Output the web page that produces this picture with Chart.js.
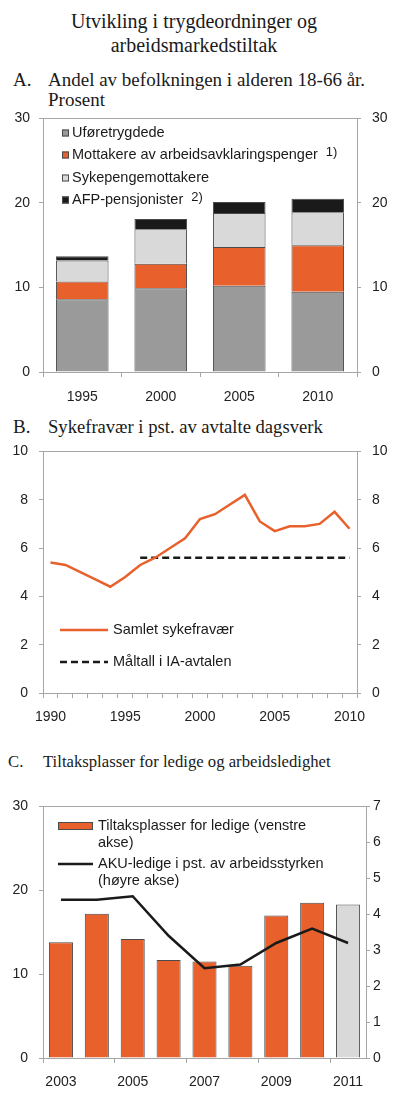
<!DOCTYPE html>
<html lang="no">
<head>
<meta charset="utf-8">
<title>Utvikling i trygdeordninger og arbeidsmarkedstiltak</title>
<script src="https://cdn.jsdelivr.net/npm/chart.js@4.4.1/dist/chart.umd.min.js"></script>
<style>
  body { margin: 0; background: #fff; }
  #page { position: relative; width: 400px; height: 1111px; overflow: hidden; }
  .serif { position: absolute; font-family: "Liberation Serif", "Times New Roman", serif; color: #1a1a1a; white-space: nowrap; }
  canvas { position: absolute; left: 0; }
</style>
</head>
<body>
<div id="page">
  <div class="serif" style="top:10px;left:0;width:388px;text-align:center;font-size:20px;line-height:23.5px;">Utvikling i trygdeordninger og<br>arbeidsmarkedstiltak</div>

  <div class="serif" style="top:70px;left:13px;font-size:19px;line-height:20px;">A.</div>
  <div class="serif" style="top:70px;left:48px;font-size:19px;line-height:20px;">Andel av befolkningen i alderen 18-66 år.<br>Prosent</div>
  <canvas id="chartA" width="400" height="309" style="top:99px"></canvas>

  <div class="serif" style="top:417px;left:13px;font-size:19px;line-height:20px;">B.</div>
  <div class="serif" style="top:417px;left:48px;font-size:18.6px;line-height:20px;">Sykefravær i pst. av avtalte dagsverk</div>
  <canvas id="chartB" width="400" height="298" style="top:432px"></canvas>

  <div class="serif" style="top:752px;left:8px;font-size:16.7px;line-height:20px;">C.</div>
  <div class="serif" style="top:752px;left:43px;font-size:16.7px;line-height:20px;">Tiltaksplasser for ledige og arbeidsledighet</div>
  <canvas id="chartC" width="400" height="319" style="top:787px"></canvas>
</div>

<script>
// A: andel av befolkningen 18-66 år, prosent
const yearsA = ['1995', '2000', '2005', '2010'];
const uforetrygdede = [8.6, 9.9, 10.2, 9.5];
const arbeidsavklaring = [2.1, 2.9, 4.6, 5.5];
const sykepenger = [2.5, 4.1, 4.0, 3.9];
const afpPensjonister = [0.5, 1.2, 1.3, 1.6];

// B: sykefravær i pst. av avtalte dagsverk
const yearsB = ['1990', '1991', '1992', '1993', '1994', '1995', '1996', '1997', '1998', '1999', '2000',
                '2001', '2002', '2003', '2004', '2005', '2006', '2007', '2008', '2009', '2010'];
const sykefravaer = [5.4, 5.3, 5.0, 4.7, 4.4, 4.8, 5.3, 5.6, 6.0, 6.4, 7.2,
                     7.4, 7.8, 8.2, 7.1, 6.7, 6.9, 6.9, 7.0, 7.5, 6.8];
const maltall = [null, null, null, null, null, null, 5.6, 5.6, 5.6, 5.6, 5.6,
                 5.6, 5.6, 5.6, 5.6, 5.6, 5.6, 5.6, 5.6, 5.6, 5.6];

// C: tiltaksplasser (1000) og AKU-ledige (pst.)
const yearsC = ['2003', '2004', '2005', '2006', '2007', '2008', '2009', '2010', '2011'];
const tiltaksplasser = [13.8, 17.2, 14.2, 11.7, 11.5, 11.0, 17.0, 18.5, 18.3];
const akuLedige = [4.4, 4.4, 4.5, 3.4, 2.5, 2.6, 3.2, 3.6, 3.2];

const ORANGE = '#e8612c';
const GREY = '#9a9a9a';
const LIGHT = '#d9d9d9';
const BLACK = '#1a1a1a';
const EDGE = '#4a4a4a';
const AXIS = '#a6a6a6';
const SANS = '"Liberation Sans", Arial, sans-serif';

Chart.defaults.font.family = SANS;
Chart.defaults.font.size = 14;
Chart.defaults.color = '#222';
Chart.defaults.animation = false;

// top line of the plot box
const frameTop = {
  id: 'frameTop',
  beforeDatasetsDraw(chart) {
    const { ctx, chartArea: a } = chart;
    ctx.save();
    ctx.strokeStyle = AXIS;
    ctx.lineWidth = 1;
    ctx.beginPath();
    ctx.moveTo(a.left, Math.round(a.top) + 0.5);
    ctx.lineTo(a.right, Math.round(a.top) + 0.5);
    ctx.stroke();
    ctx.restore();
  }
};

// legend drawn inside the plot area
const insideLegend = {
  id: 'insideLegend',
  afterDatasetsDraw(chart, args, o) {
    if (!o.items) return;
    const { ctx, chartArea: a } = chart;
    ctx.save();
    ctx.textBaseline = 'middle';
    o.items.forEach(item => {
      const ds = chart.data.datasets[item.dataset];
      const x = a.left + o.x;
      const y = Math.round(a.top + item.y);
      const fill = Array.isArray(ds.backgroundColor) ? ds.backgroundColor[0] : ds.backgroundColor;
      if (ds.type === 'line' || chart.config.type === 'line') {
        drawSampleLine(ctx, ds, x, y, o.symbolWidth);
      } else if (o.symbol === 'square') {
        ctx.fillStyle = fill;
        ctx.fillRect(x, y - 3.5, 7, 7);
        ctx.strokeStyle = EDGE;
        ctx.lineWidth = 1;
        ctx.strokeRect(x + 0.5, y - 3, 6, 6);
      } else {
        ctx.fillStyle = fill;
        ctx.fillRect(x, y - 4, o.symbolWidth, 8);
        ctx.strokeStyle = EDGE;
        ctx.lineWidth = 1;
        ctx.strokeRect(x + 0.5, y - 3.5, o.symbolWidth - 1, 7);
      }
      ctx.fillStyle = BLACK;
      ctx.font = '14.5px ' + SANS;
      const lines = item.lines || [ds.label];
      lines.forEach((t, j) => ctx.fillText(t, a.left + o.textX, y + j * (o.lineHeight || 17)));
      if (item.sup) {
        const w = ctx.measureText(lines[0]).width;
        ctx.font = '13px ' + SANS;
        ctx.fillText(item.sup, a.left + o.textX + w + 8, y - 2.5);
      }
    });
    ctx.restore();
  }
};

function drawSampleLine(ctx, ds, x, y, width) {
  ctx.strokeStyle = ds.borderColor;
  ctx.lineWidth = ds.borderWidth;
  ctx.setLineDash(ds.borderDash || []);
  ctx.beginPath();
  ctx.moveTo(x, y);
  ctx.lineTo(x + width, y);
  ctx.stroke();
  ctx.setLineDash([]);
}

Chart.register(frameTop, insideLegend);

function yAxis(position, min, max, step, pad, width) {
  return {
    position: position,
    min: min,
    max: max,
    ticks: { stepSize: step, padding: pad },
    grid: { drawOnChartArea: false, tickLength: 4, color: AXIS },
    border: { color: AXIS },
    afterFit: s => { s.width = width; }
  };
}

function xAxis(height, extra) {
  return Object.assign({
    offset: true,
    ticks: { padding: 11, autoSkip: false, maxRotation: 0 },
    grid: { offset: true, drawOnChartArea: false, tickLength: 5, color: AXIS },
    border: { color: AXIS },
    afterFit: s => { s.height = height; }
  }, extra || {});
}

// ---- A ----
const barStyle = { borderColor: EDGE, borderWidth: 1, barPercentage: 1, categoryPercentage: 0.67 };
new Chart(document.getElementById('chartA'), {
  type: 'bar',
  data: {
    labels: yearsA,
    datasets: [
      Object.assign({ label: 'Uføretrygdede', data: uforetrygdede, backgroundColor: GREY }, barStyle),
      Object.assign({ label: 'Mottakere av arbeidsavklaringspenger', data: arbeidsavklaring, backgroundColor: ORANGE }, barStyle),
      Object.assign({ label: 'Sykepengemottakere', data: sykepenger, backgroundColor: LIGHT }, barStyle),
      Object.assign({ label: 'AFP-pensjonister', data: afpPensjonister, backgroundColor: BLACK }, barStyle)
    ]
  },
  options: {
    responsive: false,
    layout: { padding: 0 },
    scales: {
      x: Object.assign(xAxis(36, { ticks: { padding: 12, autoSkip: false, maxRotation: 0 } }), { stacked: true }),
      y: Object.assign(yAxis('left', 0, 30, 10, 9, 43), { stacked: true }),
      y2: yAxis('right', 0, 30, 10, 11, 43)
    },
    plugins: {
      legend: { display: false },
      tooltip: { enabled: false },
      insideLegend: {
        symbol: 'square', x: 19, textX: 29,
        items: [
          { dataset: 0, y: 15 },
          { dataset: 1, y: 37, sup: '1)' },
          { dataset: 2, y: 60 },
          { dataset: 3, y: 82, sup: '2)' }
        ]
      }
    }
  }
});

// ---- B ----
new Chart(document.getElementById('chartB'), {
  type: 'line',
  data: {
    labels: yearsB,
    datasets: [
      { label: 'Samlet sykefravær', data: sykefravaer, borderColor: ORANGE, borderWidth: 2.5,
        pointRadius: 0, tension: 0, fill: false },
      { label: 'Måltall i IA-avtalen', data: maltall, borderColor: BLACK, borderWidth: 2.5,
        borderDash: [7, 4], pointRadius: 0, tension: 0, fill: false }
    ]
  },
  options: {
    responsive: false,
    layout: { padding: 0 },
    scales: {
      x: xAxis(37, {
        ticks: { padding: 11, autoSkip: false, maxRotation: 0,
          callback: function (v, i) { const y = yearsB[i]; return Number(y) % 5 === 0 ? y : ''; } }
      }),
      y: yAxis('left', 0, 10, 2, 11, 43),
      y2: yAxis('right', 0, 10, 2, 11, 43)
    },
    plugins: {
      legend: { display: false },
      tooltip: { enabled: false },
      insideLegend: {
        x: 17, textX: 70, symbolWidth: 48,
        items: [
          { dataset: 0, y: 179 },
          { dataset: 1, y: 211 }
        ]
      }
    }
  }
});

// ---- C ----
const tiltakColors = yearsC.map(y => (y === '2011' ? LIGHT : ORANGE));
new Chart(document.getElementById('chartC'), {
  data: {
    labels: yearsC,
    datasets: [
      Object.assign({ type: 'bar', label: 'Tiltaksplasser for ledige (venstre akse)', data: tiltaksplasser,
        backgroundColor: tiltakColors, yAxisID: 'y', order: 1 }, barStyle),
      { type: 'line', label: 'AKU-ledige i pst. av arbeidsstyrken (høyre akse)', data: akuLedige,
        borderColor: BLACK, borderWidth: 2.5, pointRadius: 0, tension: 0, fill: false, yAxisID: 'y2', order: 0 }
    ]
  },
  options: {
    responsive: false,
    layout: { padding: 0 },
    scales: {
      x: xAxis(48, {
        ticks: { padding: 11, autoSkip: false, maxRotation: 0,
          callback: function (v, i) { return i % 2 === 0 ? yearsC[i] : ''; } },
        grid: { offset: true, drawOnChartArea: false, tickLength: 5,
          color: c => (c.index % 2 === 0 ? AXIS : 'rgba(0,0,0,0)') }
      }),
      y: yAxis('left', 0, 30, 10, 11, 43),
      y2: yAxis('right', 0, 7, 1, 3, 34)
    },
    plugins: {
      legend: { display: false },
      tooltip: { enabled: false },
      insideLegend: {
        symbol: 'rect', x: 15, textX: 55, symbolWidth: 35, lineHeight: 17,
        items: [
          { dataset: 0, y: 20, lines: ['Tiltaksplasser for ledige (venstre', 'akse)'] },
          { dataset: 1, y: 58, lines: ['AKU-ledige i pst. av arbeidsstyrken', '(høyre akse)'] }
        ]
      }
    }
  }
});
</script>
</body>
</html>
